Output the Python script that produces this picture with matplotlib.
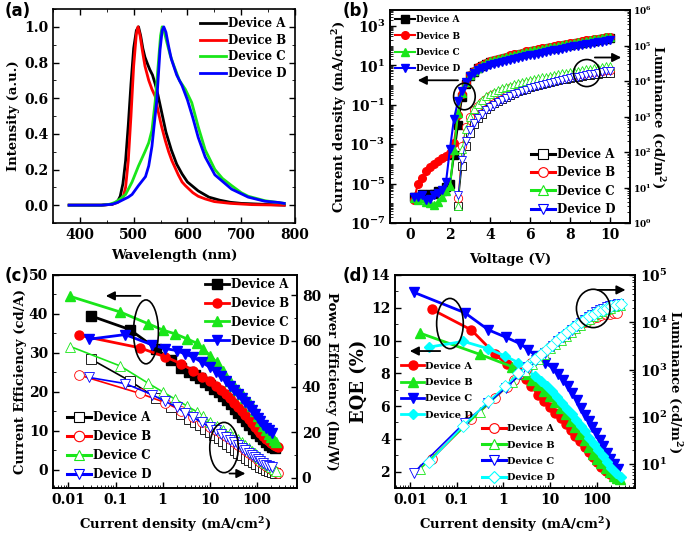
import numpy as np
import matplotlib
matplotlib.use('Agg')
import matplotlib.pyplot as plt
from matplotlib.patches import Ellipse
from matplotlib.ticker import LogLocator, NullFormatter, MultipleLocator

# ---------------- (a) EL spectra ----------------
wl_A = [380, 400, 420, 440, 460, 470, 475, 480, 485, 490, 495, 500, 505, 509, 513, 517, 521, 526, 530, 535,
        540, 545, 550, 560, 570, 580, 590, 600, 620, 640, 660, 680, 700, 740, 780]
int_A = [0, 0, 0, 0, 0.005, 0.02, 0.05, 0.12, 0.25, 0.45, 0.68, 0.88, 0.98, 1.0, 0.95, 0.88, 0.83, 0.79, 0.76, 0.73,
         0.68, 0.62, 0.55, 0.41, 0.31, 0.23, 0.175, 0.13, 0.08, 0.045, 0.028, 0.016, 0.01, 0.005, 0.0]
wl_B = [380, 400, 420, 440, 460, 470, 480, 485, 490, 495, 500, 505, 508, 512, 516, 521, 528, 534, 540, 546,
        552, 559, 565, 571, 577, 583, 590, 596, 610, 620, 633, 650, 680, 720, 780]
int_B = [0, 0, 0, 0, 0.005, 0.015, 0.04, 0.1, 0.25, 0.5, 0.78, 0.96, 1.0, 0.95, 0.87, 0.78, 0.7, 0.65, 0.61, 0.52,
         0.44, 0.36, 0.3, 0.25, 0.21, 0.17, 0.13, 0.11, 0.07, 0.05, 0.035, 0.02, 0.01, 0.003, 0.0]
wl_C = [380, 420, 440, 455, 465, 475, 485, 497, 509, 521, 528, 534, 540, 546, 550, 553, 557, 562, 568, 575,
        585, 596, 608, 620, 633, 651, 665, 682, 700, 713, 744, 780]
int_C = [0, 0, 0, 0.005, 0.015, 0.035, 0.06, 0.13, 0.22, 0.3, 0.35, 0.42, 0.58, 0.8, 0.95, 1.0, 0.97, 0.91, 0.84, 0.78,
         0.7, 0.65, 0.575, 0.44, 0.31, 0.2, 0.15, 0.11, 0.07, 0.05, 0.025, 0.01]
wl_D = [380, 420, 440, 460, 470, 480, 490, 497, 509, 522, 528, 534, 543, 549, 553, 556, 560, 565, 570, 580,
        590, 600, 610, 620, 633, 651, 682, 713, 744, 770, 780]
int_D = [0, 0, 0, 0.005, 0.015, 0.03, 0.045, 0.06, 0.11, 0.16, 0.22, 0.33, 0.59, 0.87, 0.98, 1.0, 0.97, 0.89, 0.82, 0.73,
         0.67, 0.59, 0.49, 0.38, 0.27, 0.17, 0.09, 0.045, 0.022, 0.015, 0.01]

# ---------------- (b) J-V-L ----------------
volt = [0.2, 0.4, 0.6, 0.8, 1.0, 1.2, 1.4, 1.6, 1.8, 2.0,
        2.2, 2.4, 2.6, 2.8, 3.0, 3.2, 3.4, 3.6, 3.8, 4.0,
        4.2, 4.4, 4.6, 4.8, 5.0, 5.2, 5.4, 5.6, 5.8, 6.0,
        6.2, 6.4, 6.6, 6.8, 7.0, 7.2, 7.4, 7.6, 7.8, 8.0,
        8.2, 8.4, 8.6, 8.8, 9.0, 9.2, 9.4, 9.6, 9.8, 10.0]
J_A = [2e-6, 2e-6, 3e-6, 2.5e-6, 3e-6, 3e-6, 4e-6, 4e-6, 7e-6, 1e-5,
       3e-4, 1e-2, 0.25, 1.1, 2.8, 4.8, 7, 9.2, 11.8, 14.5,
       16.5, 19, 21.5, 24, 27, 30, 34, 38, 42, 47,
       51, 56, 61, 67, 73, 80, 87, 95, 104, 113,
       123, 133, 144, 156, 169, 183, 198, 214, 231, 250]
J_B = [1.5e-6, 1e-5, 2e-5, 4.5e-5, 7e-5, 1e-4, 1.4e-4, 1.9e-4, 2.5e-4, 3.5e-4,
       1.2e-3, 0.03, 0.35, 1.3, 3.2, 5.5, 8, 10.5, 13.5, 17,
       19.5, 22, 25, 28, 32, 36, 40, 45, 51, 57,
       62, 68, 74, 81, 88, 96, 104, 113, 123, 134,
       145, 157, 170, 184, 199, 215, 232, 250, 270, 290]
J_C = [1.8e-6, 1.5e-6, 1.8e-6, 1.2e-6, 1e-6, 8e-7, 1.2e-6, 2e-6, 4e-6, 8e-6,
       5e-4, 0.04, 0.4, 1.4, 3.3, 5.5, 7.8, 10, 13, 16,
       18.5, 21, 24, 27, 30, 34, 38, 43, 48, 53,
       58, 63, 69, 75, 82, 89, 97, 106, 116, 126,
       137, 149, 162, 176, 191, 207, 224, 243, 263, 285]
J_D = [2e-6, 2.2e-6, 2.5e-6, 1.5e-6, 1.6e-6, 2.5e-6, 3.5e-6, 5e-6, 1.2e-5, 6e-4,
       0.02, 0.15, 0.5, 1.4, 2.8, 4.2, 5.6, 7, 8.6, 10.5,
       11.7, 13.1, 14.7, 16.4, 18.3, 20.5, 22.9, 25.6, 28.6, 32,
       35, 39, 43, 48, 53, 58, 64, 71, 79, 87,
       94, 102, 110, 119, 129, 139, 150, 163, 176, 190]
volt_L = volt[11:]
L_A = [3, 40, 150, 350, 600, 900, 1200, 1600, 2000,
       2400, 2800, 3200, 3600, 4100, 4600, 5100, 5600, 6100, 6600,
       7100, 7600, 8100, 8700, 9300, 9900, 10500, 11100, 11700, 12300,
       12800, 13300, 13800, 14300, 14800, 15300, 15800, 16300, 16800, 17000]
L_B = [5, 150, 500, 1000, 1500, 2000, 2600, 3100, 3700,
       4200, 4700, 5200, 5700, 6200, 6700, 7200, 7700, 8200, 8700,
       9200, 9700, 10200, 10800, 11400, 12000, 12600, 13200, 13800, 14400,
       15000, 15600, 16200, 16800, 17400, 18000, 18600, 19200, 19800, 20500]
L_C = [3, 120, 450, 1000, 1600, 2300, 3000, 3700, 4400,
       5000, 5600, 6200, 6800, 7400, 8000, 8600, 9200, 9800, 10500,
       11200, 11900, 12600, 13300, 14100, 14900, 15700, 16500, 17300, 18100,
       18900, 19700, 20500, 21300, 22100, 23000, 24000, 25000, 26000, 27000]
L_D = [6, 60, 200, 420, 650, 900, 1200, 1500, 1800,
       2100, 2500, 2900, 3300, 3700, 4200, 4700, 5200, 5700, 6200,
       6700, 7200, 7800, 8400, 9000, 9600, 10200, 10800, 11400, 12000,
       12600, 13300, 14000, 14700, 15400, 16200, 17000, 17800, 18600, 19500]

# ---------------- (c) CE / PE ----------------
Jc_A = [0.03, 0.2, 0.73, 1.49, 2.5, 3.6, 4.8, 6.3, 8, 10, 12.5, 15.5, 19, 23, 28, 34, 41, 49, 58, 69,
        82, 97, 115, 135, 158, 185, 215, 245]
CE_A = [39.5, 36.0, 31.1, 28.1, 26.2, 25.2, 24.4, 23.5, 22.6, 21.7, 20.8, 19.9, 18.9, 17.9, 16.8, 15.7, 14.6, 13.5,
        12.4, 11.4, 10.4, 9.5, 8.6, 7.8, 7.0, 6.4, 5.9, 5.6]
PE_A = [52, 42.5, 35, 31, 28, 26, 24.5, 23, 21.5, 20, 18.7, 17.4, 16.1, 14.8, 13.5, 12.2, 11, 9.9, 8.8, 7.8,
        6.8, 5.9, 5.0, 4.3, 3.6, 3.0, 2.5, 2.0]
Jc_B = [0.017, 0.33, 1.13, 2.5, 4.5, 6.8, 10.2, 13.5, 17.5, 22, 27, 33, 40, 48, 57, 67, 78, 90, 104, 120,
        138, 158, 180, 205, 233, 263, 290]
CE_B = [34.5, 31.3, 29.0, 27.2, 25.4, 23.9, 22.7, 21.6, 20.5, 19.4, 18.3, 17.2, 16.1, 15.0, 14.0, 13.0, 12.0, 11.0,
        10.1, 9.3, 8.6, 7.9, 7.3, 6.8, 6.4, 6.1, 5.9]
PE_B = [45, 37, 33, 29.5, 26.5, 24.5, 22.5, 21, 19.5, 18.2, 17, 15.8, 14.6, 13.4, 12.2, 11.1, 10, 9, 8, 7,
        6.1, 5.3, 4.5, 3.8, 3.1, 2.5, 2.0]
Jc_C = [0.011, 0.126, 0.49, 1.04, 1.84, 3.3, 5.3, 7.3, 10.2, 14, 19.6, 27, 33, 40, 48, 57, 67, 78, 90, 104,
        120, 138, 158, 180, 205, 233, 263]
CE_C = [44.5, 40.5, 37.5, 35.8, 34.9, 33.6, 32.5, 31.0, 29.3, 27.6, 25.4, 22.8, 21.5, 20.4, 19.5, 18.5, 17.5, 16.3,
        15.0, 13.7, 12.4, 11.2, 10.1, 9.2, 8.4, 7.7, 7.2]
PE_C = [57.5, 49, 41.5, 37.5, 34.5, 31.5, 29, 27, 24.5, 22.8, 21, 19.5, 18.2, 16.9, 15.6, 14.3, 13.1, 11.9, 10.8, 9.7,
        8.6, 7.6, 6.6, 5.6, 4.7, 3.8, 3.0]
Jc_D = [0.027, 0.16, 0.59, 1.13, 2.0, 3.0, 4.5, 6.8, 10.2, 13.5, 17.5, 22, 27, 33, 40, 48, 57, 67, 78, 90,
        104, 120, 138, 158, 180, 210]
CE_D = [33.5, 34.7, 32.1, 31.1, 30.6, 29.7, 28.9, 27.6, 26.3, 25.2, 24.0, 22.8, 21.6, 20.5, 19.4, 18.3, 17.3, 16.3,
        15.3, 14.3, 13.3, 12.4, 11.6, 10.8, 10.1, 9.5]
PE_D = [44, 41.3, 36.5, 33.5, 31, 28.5, 26.5, 24.3, 22.2, 20.8, 19.4, 18, 16.8, 15.6, 14.4, 13.2, 12.1, 11, 10, 9,
        8.1, 7.2, 6.4, 5.7, 5.2, 4.8]

# ---------------- (d) EQE / L ----------------
Jd_A = [0.0296, 0.206, 0.68, 1.19, 1.66, 2.2, 3.0, 4.0, 5.6, 7.5, 10, 13, 17, 22, 28, 35, 44, 55, 68, 84,
        103, 126, 155, 190, 230, 275]
EQE_A = [11.9, 10.65, 9.15, 8.55, 8.35, 8.05, 7.65, 7.2, 6.7, 6.3, 5.95, 5.6, 5.25, 4.9, 4.55, 4.2, 3.85, 3.5, 3.2, 2.9,
         2.6, 2.3, 2.05, 1.85, 1.65, 1.55]
Ld_A = [13, 89, 250, 440, 600, 800, 1050, 1350, 1820, 2340, 2950, 3630, 4470, 5370, 6460, 7590, 8710, 10000, 11200,
        12300, 13200, 14100, 14800, 15100, 15500, 15800]
Jd_B = [0.0166, 0.32, 1.55, 2.9, 4.2, 5.6, 7.5, 10, 13, 17, 22, 28, 35, 44, 55, 68, 84, 103, 126, 155,
        190, 230, 275, 320]
EQE_B = [10.45, 9.15, 8.4, 7.95, 7.6, 7.3, 6.95, 6.6, 6.25, 5.9, 5.5, 5.1, 4.7, 4.3, 3.9, 3.5, 3.1, 2.8, 2.5, 2.2,
         1.95, 1.75, 1.6, 1.55]
Ld_B = [8, 130, 560, 950, 1320, 1700, 2190, 2820, 3470, 4270, 5250, 6310, 7590, 8910, 10500, 12000, 13800, 15500,
        17400, 19100, 20400, 21900, 22900, 23400]
Jd_C = [0.012, 0.149, 0.48, 1.14, 2.32, 3.4, 5.0, 7.8, 11.7, 15, 19, 24, 30, 37, 45, 55, 67, 80, 96, 115,
        137, 163, 195, 235, 290]
EQE_C = [12.95, 11.7, 10.65, 10.2, 9.8, 9.45, 9.05, 8.65, 8.3, 7.95, 7.6, 7.2, 6.8, 6.35, 5.9, 5.45, 5.1, 4.75,
         4.35, 3.95, 3.55, 3.15, 2.8, 2.45, 2.15]
Ld_C = [6.6, 76, 200, 417, 794, 1120, 1580, 2240, 3160, 3980, 4790, 5750, 6920, 8320, 9770, 11200, 12900, 14500,
        16200, 17800, 19500, 20900, 22400, 23400, 24000]
Jd_D = [0.026, 0.14, 0.48, 1.1, 2.1, 3.2, 4.7, 6.5, 8.5, 11, 14, 18, 23, 29, 36, 45, 56, 70, 87, 108,
        134, 165, 205, 255, 330]
EQE_D = [9.6, 9.95, 9.5, 9.05, 8.65, 8.2, 7.85, 7.5, 7.2, 6.9, 6.55, 6.2, 5.85, 5.5, 5.15, 4.8, 4.45, 4.05, 3.7, 3.3,
         2.95, 2.6, 2.25, 1.9, 1.65]
Ld_D = [11, 66, 214, 447, 832, 1200, 1660, 2190, 2750, 3390, 4170, 5130, 6170, 7410, 8710, 10200, 11700, 13500,
        15100, 17000, 18600, 20400, 21900, 23400, 24500]

devices = ['Device A', 'Device B', 'Device C', 'Device D']
log_j_ticks = [0.01, 0.1, 1, 10, 100]
log_j_labels = ['0.01', '0.1', '1', '10', '100']

BLACK, RED, GREEN, BLUE, CYAN = '#000000', '#ff0000', '#19e619', '#0000ff', '#00ffff'

plt.rcParams['font.family'] = 'DejaVu Serif'
plt.rcParams['font.weight'] = 'bold'
plt.rcParams['axes.labelweight'] = 'bold'
plt.rcParams['mathtext.fontset'] = 'custom'
plt.rcParams['mathtext.rm'] = 'DejaVu Serif:bold'
plt.rcParams['mathtext.bf'] = 'DejaVu Serif:bold'
plt.rcParams['mathtext.it'] = 'DejaVu Serif:bold'
plt.rcParams['xtick.direction'] = 'in'
plt.rcParams['ytick.direction'] = 'in'
plt.rcParams['axes.linewidth'] = 1.2
plt.rcParams['xtick.major.width'] = 1.0
plt.rcParams['ytick.major.width'] = 1.0
plt.rcParams['xtick.major.size'] = 4
plt.rcParams['ytick.major.size'] = 4
plt.rcParams['xtick.minor.size'] = 2
plt.rcParams['ytick.minor.size'] = 2
plt.rcParams['xtick.labelsize'] = 10
plt.rcParams['ytick.labelsize'] = 10

fig = plt.figure(figsize=(6.85, 5.35), dpi=100)
W, H = 685.0, 535.0

def axes_px(l, t, r, b):
    return fig.add_axes([l / W, 1 - b / H, (r - l) / W, (b - t) / H])

def ellipse_arrow(ax, cx, cy, w, h, start, end):
    ax.add_patch(Ellipse((cx, cy), w, h, transform=ax.transAxes, fill=False, lw=1.2, ec='k', zorder=20))
    ax.annotate('', xy=end, xytext=start, xycoords='axes fraction', textcoords='axes fraction',
                arrowprops=dict(arrowstyle='-|>', color='k', lw=1.3, mutation_scale=13), zorder=20)

# ---------- (a) ----------
axa = axes_px(53, 9, 295, 223)
for wl, it, c, lab in zip([wl_A, wl_B, wl_C, wl_D], [int_A, int_B, int_C, int_D],
                          [BLACK, RED, GREEN, BLUE], devices):
    axa.plot(wl, it, color=c, lw=2.0, label=lab)
axa.set_xlim(350, 800)
axa.set_ylim(-0.1, 1.1)
axa.xaxis.set_major_locator(MultipleLocator(100))
axa.xaxis.set_minor_locator(MultipleLocator(50))
axa.yaxis.set_major_locator(MultipleLocator(0.2))
axa.yaxis.set_minor_locator(MultipleLocator(0.1))
axa.tick_params(which='both', top=True, right=True)
axa.set_xlabel('Wavelength (nm)', fontsize=9.5, labelpad=5)
axa.set_ylabel('Intensity (a.u.)', fontsize=9.5, labelpad=3)
axa.legend(loc='upper right', fontsize=8.5, frameon=False, handlelength=2.2, handletextpad=0.2,
           labelspacing=0.3, borderaxespad=0.3)

# ---------- (b) ----------
axb = axes_px(390, 10, 630, 223)
axb2 = axb.twinx()
mk = ['s', 'o', '^', 'v']
cols_b = [BLACK, RED, GREEN, BLUE]
hb1, hb2 = [], []
for J, c, m in zip([J_A, J_B, J_C, J_D], cols_b, mk):
    h, = axb.plot(volt, J, color=c, marker=m, ms=5.5, lw=1.5, mec=c)
    hb1.append(h)
for L, c, m in zip([L_A, L_B, L_C, L_D], cols_b, mk):
    axb2.plot(volt_L, L, color=c, marker=m, ms=6, lw=0.6, mfc='white', mec=c, mew=0.6)
    h, = axb2.plot([], [], color=c, marker=m, ms=7, lw=2.2, mfc='white', mec=c, mew=0.8)
    hb2.append(h)
axb.set_yscale('log')
axb2.set_yscale('log')
axb.set_xlim(-1, 11)
axb.set_ylim(1e-7, 6.5e3)
axb2.set_ylim(1, 1e6)
axb.set_yticks([1e-7, 1e-5, 1e-3, 1e-1, 1e1, 1e3],
               ['$10^{-7}$', '$10^{-5}$', '$10^{-3}$', '$10^{-1}$', '$10^{1}$', '$10^{3}$'])
axb.yaxis.set_minor_locator(LogLocator(base=10, subs=np.arange(1, 10), numticks=100))
axb.yaxis.set_minor_formatter(NullFormatter())
axb2.set_yticks([1, 10, 100, 1e3, 1e4, 1e5, 1e6],
                ['$10^{0}$', '$10^{1}$', '$10^{2}$', '$10^{3}$', '$10^{4}$', '$10^{5}$', '$10^{6}$'])
axb2.yaxis.set_minor_locator(LogLocator(base=10, subs=np.arange(2, 10), numticks=100))
axb2.yaxis.set_minor_formatter(NullFormatter())
axb2.tick_params(axis='y', labelsize=6.5, pad=2)
axb.xaxis.set_major_locator(MultipleLocator(2))
axb.xaxis.set_minor_locator(MultipleLocator(1))
axb.set_xlabel('Voltage (V)', fontsize=9.5, labelpad=8)
axb.set_ylabel('Current density (mA/cm$^2$)', fontsize=9.5, labelpad=0)
axb2.set_ylabel('Luminance (cd/m$^2$)', fontsize=9.5, rotation=270, labelpad=11)
leg = axb2.legend(hb2, devices, loc='lower right', bbox_to_anchor=(0.97, 0.0), fontsize=8.5, frameon=False,
                  handlelength=2.0, handletextpad=0.2, labelspacing=0.45, borderaxespad=0.2, numpoints=1)
axb2.add_artist(leg)
axb2.legend(hb1, devices, loc='upper left', bbox_to_anchor=(0.0, 1.0), fontsize=6.5, frameon=False,
            handlelength=2.2, handletextpad=0.1, labelspacing=0.8, borderaxespad=0.2, numpoints=1)
ellipse_arrow(axb2, 0.31, 0.594, 0.09, 0.125, (0.295, 0.67), (0.104, 0.67))
ellipse_arrow(axb2, 0.82, 0.704, 0.11, 0.127, (0.842, 0.777), (0.975, 0.777))

# ---------- (c) ----------
axc = axes_px(53, 275, 297, 488)
axc2 = axc.twinx()
hc1, hc2 = [], []
for J, CE, c, m in zip([Jc_A, Jc_B, Jc_C, Jc_D], [CE_A, CE_B, CE_C, CE_D], cols_b, mk):
    h, = axc.plot(J, CE, color=c, marker=m, ms=6.5, lw=2.0, mec=c)
    hc1.append(h)
for J, PE, c, m in zip([Jc_A, Jc_B, Jc_C, Jc_D], [PE_A, PE_B, PE_C, PE_D], cols_b, mk):
    axc2.plot(J, PE, color=c, marker=m, ms=7, lw=1.2, mfc='white', mec=c, mew=0.6)
    h, = axc2.plot([], [], color=c, marker=m, ms=7.5, lw=2.2, mfc='white', mec=c, mew=0.8)
    hc2.append(h)
axc.set_xscale('log')
axc.set_xlim(0.0047, 718)
axc.set_ylim(-4.7, 50)
axc2.set_ylim(-4.4, 88.8)
axc.set_xticks(log_j_ticks, log_j_labels)
axc.xaxis.set_minor_locator(LogLocator(base=10, subs=np.arange(2, 10), numticks=100))
axc.xaxis.set_minor_formatter(NullFormatter())
axc.yaxis.set_major_locator(MultipleLocator(10))
axc.yaxis.set_minor_locator(MultipleLocator(5))
axc2.yaxis.set_major_locator(MultipleLocator(20))
axc2.yaxis.set_minor_locator(MultipleLocator(10))
axc.set_xlabel('Current density (mA/cm$^2$)', fontsize=9.5, labelpad=6)
axc.set_ylabel('Current Efficiency (cd/A)', fontsize=9.5, labelpad=1)
axc2.set_ylabel('Power Efficiency (lm/W)', fontsize=9.5, rotation=270, labelpad=12)
leg = axc2.legend(hc1, devices, loc='upper right', bbox_to_anchor=(1.0, 1.02), fontsize=8.5, frameon=False,
                  handlelength=2.0, handletextpad=0.2, labelspacing=0.5, borderaxespad=0.2, numpoints=1)
axc2.add_artist(leg)
axc2.legend(hc2, devices, loc='lower left', bbox_to_anchor=(0.03, 0.0), fontsize=8.5, frameon=False,
            handlelength=2.0, handletextpad=0.2, labelspacing=0.5, borderaxespad=0.2, numpoints=1)
ellipse_arrow(axc2, 0.381, 0.733, 0.102, 0.30, (0.37, 0.902), (0.205, 0.902))
ellipse_arrow(axc2, 0.701, 0.19, 0.117, 0.236, (0.712, 0.068), (0.80, 0.068))

# ---------- (d) ----------
axd = axes_px(395, 275, 635, 488)
axd2 = axd.twinx()
mk_d = ['o', '^', 'v', 'D']
cols_d = [RED, GREEN, BLUE, CYAN]
hd1, hd2 = [], []
for J, E, c, m in zip([Jd_A, Jd_B, Jd_C, Jd_D], [EQE_A, EQE_B, EQE_C, EQE_D], cols_d, mk_d):
    h, = axd.plot(J, E, color=c, marker=m, ms=6.5 if m != 'D' else 5.5, lw=2.0, mec=c)
    hd1.append(h)
for J, L, c, m in zip([Jd_A, Jd_B, Jd_C, Jd_D], [Ld_A, Ld_B, Ld_C, Ld_D], cols_d, mk_d):
    axd2.plot(J, L, color=c, marker=m, ms=7 if m != 'D' else 6, lw=1.2, mfc='white', mec=c, mew=0.6)
    h, = axd2.plot([], [], color=c, marker=m, ms=7 if m != 'D' else 6, lw=2.2, mfc='white', mec=c, mew=0.8)
    hd2.append(h)
axd.set_xscale('log')
axd2.set_yscale('log')
axd.set_xlim(0.0048, 660)
axd.set_ylim(1, 14)
axd2.set_ylim(10 ** 0.5, 1e5)
axd.set_xticks(log_j_ticks, log_j_labels)
axd.xaxis.set_minor_locator(LogLocator(base=10, subs=np.arange(2, 10), numticks=100))
axd.xaxis.set_minor_formatter(NullFormatter())
axd.yaxis.set_major_locator(MultipleLocator(2))
axd.yaxis.set_minor_locator(MultipleLocator(1))
axd2.set_yticks([10, 100, 1e3, 1e4, 1e5], ['$10^{1}$', '$10^{2}$', '$10^{3}$', '$10^{4}$', '$10^{5}$'])
axd2.yaxis.set_minor_locator(LogLocator(base=10, subs=np.arange(2, 10), numticks=100))
axd2.yaxis.set_minor_formatter(NullFormatter())
axd.set_xlabel('Current density (mA/cm$^2$)', fontsize=9.5, labelpad=6)
axd.set_ylabel('EQE (%)', fontsize=13, labelpad=2)
axd2.set_ylabel('Luminance (cd/m$^2$)', fontsize=9.5, rotation=270, labelpad=12)
leg = axd2.legend(hd1, devices, loc='upper left', bbox_to_anchor=(0.0, 0.62), fontsize=7, frameon=False,
                  handlelength=2.4, handletextpad=0.1, labelspacing=0.75, borderaxespad=0.2, numpoints=1)
axd2.add_artist(leg)
axd2.legend(hd2, devices, loc='lower left', bbox_to_anchor=(0.34, 0.0), fontsize=7, frameon=False,
            handlelength=2.4, handletextpad=0.1, labelspacing=0.75, borderaxespad=0.2, numpoints=1)
ellipse_arrow(axd2, 0.229, 0.772, 0.111, 0.236, (0.20, 0.643), (0.05, 0.643))
ellipse_arrow(axd2, 0.826, 0.843, 0.14, 0.18, (0.833, 0.93), (0.972, 0.93))

for lab, x, y in [('(a)', 5, 2), ('(b)', 343, 2), ('(c)', 5, 267), ('(d)', 343, 267)]:
    fig.text(x / W, 1 - y / H, lab, family='DejaVu Sans', weight='bold', fontsize=12, va='top', ha='left')

fig.savefig('out.png', dpi=100)
